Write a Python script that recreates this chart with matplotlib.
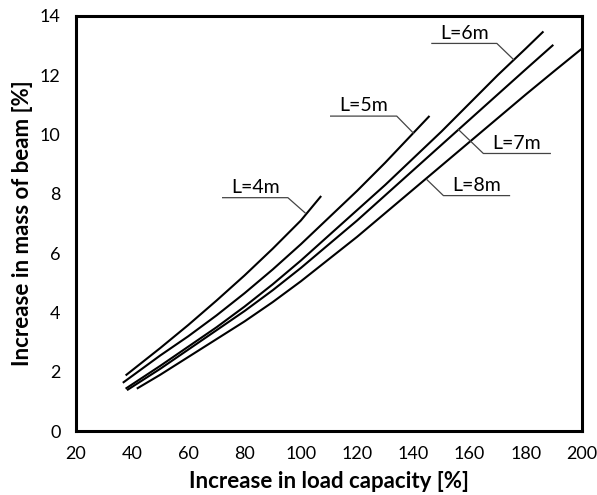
import matplotlib
matplotlib.use('Agg')
import matplotlib.pyplot as plt

# Datos (incremento de capacidad de carga vs incremento de masa)
x_4m = [38, 50, 60, 70, 80, 90, 100, 107]
y_4m = [1.9, 2.8, 3.58, 4.4, 5.25, 6.15, 7.1, 7.9]

x_5m = [37, 50, 60, 70, 80, 90, 100, 110, 120, 130, 140, 145.5]
y_5m = [1.65, 2.55, 3.2, 3.9, 4.65, 5.45, 6.3, 7.2, 8.1, 9.05, 10.05, 10.6]

x_6m = [38, 50, 60, 70, 80, 90, 100, 110, 120, 130, 140, 150, 160, 170, 180, 186]
y_6m = [1.45, 2.2, 2.85, 3.5, 4.2, 4.95, 5.75, 6.6, 7.45, 8.3, 9.2, 10.1, 11.05, 12.0, 12.9, 13.45]

x_7m = [38.5, 50, 60, 70, 80, 90, 100, 110, 120, 130, 140, 150, 160, 170, 180, 189.5]
y_7m = [1.4, 2.1, 2.75, 3.4, 4.05, 4.75, 5.5, 6.3, 7.1, 7.95, 8.8, 9.65, 10.5, 11.35, 12.2, 13.0]

x_8m = [42, 50, 60, 70, 80, 90, 100, 110, 120, 130, 140, 150, 160, 170, 180, 190, 200]
y_8m = [1.45, 1.9, 2.5, 3.1, 3.7, 4.35, 5.05, 5.8, 6.55, 7.35, 8.15, 8.95, 9.75, 10.55, 11.35, 12.13, 12.9]

etiquetas = ['L=4m', 'L=5m', 'L=6m', 'L=7m', 'L=8m']
# linea de llamada: (inicio subrayado x, fin subrayado x, y subrayado, punta x, punta y)
llamadas = [
    (72.2, 95.4, 7.87, 101.5, 7.36),
    (110.6, 134.1, 10.62, 140.0, 10.05),
    (146.6, 169.7, 13.07, 175.6, 12.53),
    (188.7, 164.9, 9.36, 156.0, 10.17),
    (174.2, 150.7, 7.94, 144.8, 8.48),
]

plt.rcParams['font.family'] = ['Lato', 'DejaVu Sans']

fig = plt.figure(figsize=(5.97, 4.95), dpi=100)
ax = fig.add_axes([0.127, 0.129, 0.848, 0.839])

for xs, ys in [(x_4m, y_4m), (x_5m, y_5m), (x_6m, y_6m), (x_7m, y_7m), (x_8m, y_8m)]:
    ax.plot(xs, ys, color='black', linewidth=1.5)

# Etiquetas con linea de llamada
for txt, (xa, xb, yl, xp, yp) in zip(etiquetas, llamadas):
    ax.plot([xa, xb, xp], [yl, yl, yp], color='#444444', linewidth=0.9)
    ax.text((xa + xb) / 2, yl + 0.06, txt, ha='center', va='bottom', fontsize=14)

ax.set_xlim(20, 200)
ax.set_ylim(0, 14)
ax.set_xticks(range(20, 201, 20))
ax.set_yticks(range(0, 15, 2))
ax.tick_params(length=0, labelsize=13)
ax.tick_params(axis='x', pad=11)
ax.tick_params(axis='y', pad=11)
for s in ax.spines.values():
    s.set_linewidth(2.2)

ax.set_xlabel('Increase in load capacity [%]', fontsize=16, fontweight='bold', labelpad=6)
ax.set_ylabel('Increase in mass of beam [%]', fontsize=16, fontweight='bold', labelpad=5)

plt.savefig('out.png', dpi=100)
